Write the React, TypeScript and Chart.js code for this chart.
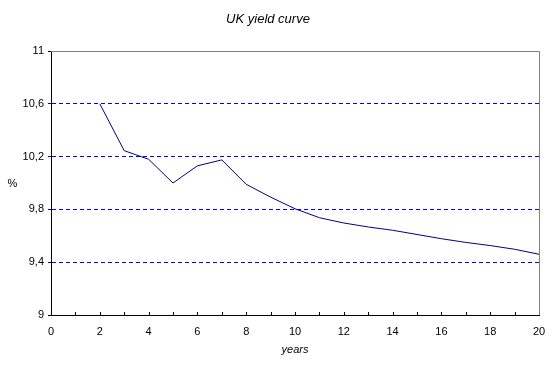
import React, { useEffect, useRef } from "react";
import { Chart, registerables } from "chart.js";

Chart.register(...registerables);

const years = [2, 3, 4, 5, 6, 7, 8, 9, 10, 11, 12, 13, 14, 15, 16, 17, 18, 19, 20];
const yields = [10.6, 10.245, 10.18, 10.0, 10.13, 10.175, 9.99, 9.893, 9.805, 9.737, 9.697, 9.667, 9.642, 9.61, 9.578, 9.55, 9.526, 9.498, 9.46];
const yTicks = [9, 9.4, 9.8, 10.2, 10.6, 11];
const xLabelTicks = [0, 2, 4, 6, 8, 10, 12, 14, 16, 18, 20];
const titleText = "UK yield curve";
const xTitle = "years";
const yTitle = "%";

const FONT = "'Liberation Sans', Arial, sans-serif";

const decorPlugin = {
  id: "decor",
  afterDraw(chart: any) {
    const { ctx, chartArea } = chart;
    const { left, right, top, bottom } = chartArea;
    ctx.save();
    // top & right gray border
    ctx.strokeStyle = "#808080";
    ctx.lineWidth = 1;
    ctx.setLineDash([]);
    ctx.beginPath();
    ctx.moveTo(left, top + 0.5);
    ctx.lineTo(right + 0.5, top + 0.5);
    ctx.lineTo(right + 0.5, bottom);
    ctx.stroke();
    // inside minor ticks on x axis
    const xs = chart.scales.x;
    ctx.strokeStyle = "#000000";
    ctx.beginPath();
    for (let v = 1; v < 20; v++) {
      const px = Math.round(xs.getPixelForValue(v)) + 0.5;
      ctx.moveTo(px, bottom);
      ctx.lineTo(px, bottom - 3);
    }
    ctx.stroke();
    // texts
    ctx.fillStyle = "#000000";
    ctx.textAlign = "center";
    ctx.textBaseline = "middle";
    ctx.font = `italic 13px ${FONT}`;
    ctx.fillText(titleText, 268, 19);
    ctx.font = `italic 11px ${FONT}`;
    ctx.fillText(xTitle, 295, 350);
    ctx.font = `11px ${FONT}`;
    ctx.fillText(yTitle, 12.5, 183.5);
    ctx.restore();
  },
};

export default function App() {
  const ref = useRef<HTMLCanvasElement | null>(null);
  useEffect(() => {
    document.body.style.margin = "0";
    const canvas = ref.current;
    if (!canvas) return;
    const gridColors = yTicks.map((v) => (v === 9 || v === 11 ? "rgba(0,0,0,0)" : "#0000ff"));
    const tickColors = yTicks.map((v) => (v === 9 || v === 11 ? "#000000" : "#0000ff"));
    const chart = new Chart(canvas, {
      type: "line",
      data: {
        datasets: [
          {
            data: years.map((x, i) => ({ x, y: yields[i] })),
            borderColor: "#000080",
            borderWidth: 1,
            pointRadius: 0,
            tension: 0,
            fill: false,
          },
        ],
      },
      options: {
        animation: false,
        responsive: false,
        layout: { padding: { top: 51, right: 13, left: 0, bottom: 0 } },
        plugins: { legend: { display: false }, title: { display: false }, tooltip: { enabled: false } },
        scales: {
          x: {
            type: "linear",
            min: 0,
            max: 20,
            afterFit: (s: any) => {
              s.height = 50;
              s.paddingLeft = 0;
              s.paddingRight = 0;
            },
            afterBuildTicks: (s: any) => {
              s.ticks = xLabelTicks.map((v) => ({ value: v }));
            },
            grid: { display: false, drawTicks: false },
            border: { display: true, color: "#000000", width: 1 },
            ticks: {
              color: "#000000",
              font: { family: FONT, size: 11 },
              padding: 10,
              maxRotation: 0,
              autoSkip: false,
            },
          },
          y: {
            type: "linear",
            min: 9,
            max: 11,
            afterFit: (s: any) => {
              s.width = 51;
              s.paddingTop = 0;
              s.paddingBottom = 0;
            },
            afterBuildTicks: (s: any) => {
              s.ticks = yTicks.map((v) => ({ value: v }));
            },
            grid: {
              color: gridColors,
              tickColor: tickColors,
              lineWidth: 1,
              tickLength: 3,
            } as any,
            border: { display: true, color: "#000000", width: 1, dash: [4, 3] } as any,
            ticks: {
              color: "#000000",
              font: { family: FONT, size: 11 },
              padding: 4,
              callback: (v: any) => String(v).replace(".", ","),
            },
          },
        },
      },
      plugins: [decorPlugin],
    } as any);
    return () => chart.destroy();
  }, []);
  return (
    <div style={{ width: 552, height: 365 }}>
      <canvas ref={ref} width={552} height={365} style={{ display: "block" }} />
    </div>
  );
}
